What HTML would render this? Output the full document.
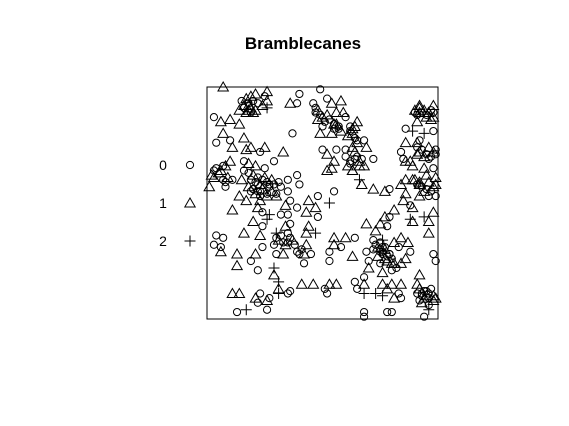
<!DOCTYPE html>
<html><head><meta charset="utf-8"><style>
html,body{margin:0;padding:0;background:#fff;}
svg{display:block;font-family:"Liberation Sans",Arial,sans-serif;}
</style></head><body>
<svg id="chart" width="569" height="426" viewBox="0 0 569 426">
<text x="303" y="49" text-anchor="middle" font-size="17" font-weight="bold">Bramblecanes</text>
<rect x="207" y="87" width="231" height="232" fill="none" stroke="#000" stroke-width="1"/>
<g id="legend"></g>
<g id="points"></g>
</svg>
<script>
const ptsX=[7,17,19,21,26,26,18,19,20,17,26,36,39,40,46,49,52,54,58,47,48,50,49,56,59,60,55,62,64,65,63,65,68,69,63,60,56,50,52,55,54,52,62,63,66,68,72,66,67,72,77,79,84,86,89,92,98,96,99,86,88,89,85,92,98,94,96,96,89,88,81,77,79,75,78,69,73,
92,98,90,92,95,98,91,86,89,94,98,92,86,91,84,85,88,91,96,99,98,94,89,86,95,99,
3,6,10,14,7,4,10,11,16,17,19,23,25,33,29,37,16,18,21,25,16,18,10,8,6,3,1,7,8,11,15,
22,23,27,31,35,39,40,35,20,26,30,14,17,23,22,24,27,11,36,34,39,32,35,44,48,53,55,47,43,48,26,20,24,34,36,35,30,23,16,44,47,43,
4,7,3,6,6,13,19,21,24,29,30,33,22,13,29,29,31,31,11,14,21,23,26,22,27,31,35,36,13,17,26,
39,41,43,42,42,40,45,53,55,55,58,60,53,63,64,69,70,70,72,75,75,76,77,79,76,81,84,83,84,87,88,86,80,80,78,76,98,99,
41,46,51,52,53,56,64,65,68,68,68,73,76,78,81,84,80,76,83,84,68,68,78,80,92,91,93,95,96,99,93,96,94,
15,16,18,19,20,21,22,14,16,18,24,25,47,48,49,50,51,52,53,55,57,61,62,63,64,65,60,61,62,63,64,
90,91,92,93,94,95,96,97,97,98,91,92,93,94,95,96,97,98,99,90,91,92,93,94,95,96,97,99,
19,20,21,22,23,24,25,26,27,28,29,18,19,20,21,22,23,24,26,28,30,32,
72,73,74,75,76,77,78,74,75,76,77,79,80,81,82,
91,92,93,94,95,96,97,98,92,94,96,98,
30,31,32,33,34,35,36,37,38,3,5,7,2,4,8,9,
64,65,66,67,54,55,56,57,58];
const ptsY=[100,95,96,97,98,94,92,89,89,89,91,93,93,97,93,99,95,93,94,89,86,83,80,89,89,87,84,83,83,85,80,77,77,74,74,73,73,73,71,68,65,64,67,64,66,66,69,60,58,56,55,56,58,60,60,58,57,53,53,54,49,48,51,53,46,44,42,37,42,43,47,44,44,41,40,41,38,
92,92,89,89,87,87,85,82,81,80,81,77,76,76,72,69,68,71,69,73,65,65,66,68,62,61,
87,85,86,84,80,76,77,74,78,73,74,72,74,72,68,80,68,67,66,65,64,63,68,66,64,61,57,60,57,60,60,
58,55,58,59,60,62,58,55,56,53,53,53,51,51,48,46,45,47,51,49,48,45,45,51,53,50,55,48,46,44,43,42,40,40,41,37,37,36,37,40,37,37,
36,35,32,31,29,28,25,28,31,32,28,28,21,23,22,19,16,13,11,11,9,11,8,7,9,11,11,12,3,4,4,
29,30,32,28,24,28,28,29,35,32,31,35,25,27,35,29,25,22,34,33,30,28,31,28,34,33,35,31,24,33,29,26,24,21,25,20,28,25,
15,15,13,11,15,15,16,13,15,11,18,11,10,13,9,15,15,15,11,9,3,1,3,3,19,15,11,12,9,9,7,4,1,
94,92,93,91,94,90,93,90,91,90,92,96,91,90,88,87,85,88,86,84,82,79,81,82,78,76,70,66,68,64,69,
90,88,91,89,90,88,89,90,86,89,74,72,73,70,71,74,70,72,71,60,58,59,57,55,56,59,55,58,
60,62,59,61,58,60,61,59,57,60,58,57,55,56,54,55,53,56,54,55,54,57,
30,32,31,29,31,30,27,27,24,29,26,28,26,24,22,
11,13,10,12,10,11,13,10,8,9,6,8,
35,34,36,33,32,33,35,34,32,64,63,66,62,65,59,61,
72,70,68,69,80,82,84,83,81];
const ptsType=[1,1,1,1,1,1,1,0,1,1,2,1,0,0,0,0,0,1,1,0,1,0,1,1,1,0,0,0,1,1,1,0,0,1,1,0,0,0,1,1,1,1,0,1,1,1,0,2,1,1,1,0,1,1,1,1,1,0,0,1,0,1,1,1,1,2,1,1,1,2,1,1,0,1,0,1,1,
1,1,0,1,1,1,1,0,2,2,0,0,1,1,0,0,1,1,0,0,0,1,1,1,1,1,
0,1,1,1,1,0,0,1,1,1,1,0,1,1,0,0,0,1,1,0,0,0,1,1,1,1,1,0,0,0,1,
0,0,0,0,0,0,0,0,0,1,1,1,1,1,1,0,2,1,0,1,0,0,0,1,0,2,0,1,1,0,2,1,0,1,0,0,2,1,1,1,2,1,
0,0,0,0,1,1,0,1,0,0,0,1,0,1,2,1,2,1,1,1,1,0,1,0,0,2,0,0,0,2,0,
0,0,1,1,0,0,0,0,1,1,0,1,0,1,0,0,0,1,0,0,0,0,0,0,2,1,1,0,1,1,0,1,1,0,1,1,0,0,
1,1,0,0,1,1,0,0,1,2,0,2,2,1,1,1,1,1,0,0,0,0,0,0,1,1,0,0,0,1,1,2,0,
0,1,0,1,0,1,0,1,0,1,1,0,0,1,0,1,0,1,0,1,0,1,0,1,0,1,0,1,0,1,0,
1,0,1,0,1,0,1,0,1,0,0,1,0,1,0,1,0,1,0,1,0,1,0,1,0,1,0,1,
0,1,0,0,1,0,1,0,0,1,0,1,0,0,1,0,0,1,0,1,0,0,
0,0,1,0,0,1,0,1,0,0,1,0,0,1,0,
0,1,0,0,1,0,0,1,0,1,0,1,
0,1,0,0,1,0,0,1,0,0,1,0,1,0,0,1,
1,0,1,0,1,0,1,0,1];
const legendLabels=["0","1","2"];

const NS="http://www.w3.org/2000/svg";
const X0=207,X1=438,Y0=319,Y1=87;
function sx(v){return X0+v/100*(X1-X0);}
function sy(v){return Y0-v/100*(Y0-Y1);}
function marker(t,x,y){
  let el;
  if(t===0){el=document.createElementNS(NS,'circle');el.setAttribute('cx',x);el.setAttribute('cy',y);el.setAttribute('r',3.6);}
  else if(t===1){el=document.createElementNS(NS,'polygon');el.setAttribute('points',`${x},${y-5} ${x-5.2},${y+4} ${x+5.2},${y+4}`);}
  else {el=document.createElementNS(NS,'path');el.setAttribute('d',`M${x-5.5},${y}H${x+5.5}M${x},${y-5.5}V${y+5.5}`);}
  el.setAttribute('fill','none');el.setAttribute('stroke','#000');el.setAttribute('stroke-width','1');
  return el;
}
const pg=document.getElementById('points');
const names=['point-type-0','point-type-1','point-type-2'];
const n=Math.min(ptsX.length,ptsY.length);
for(let i=0;i<n;i++){
  const t=ptsType[i]||0;
  const el=marker(t,sx(ptsX[i]),sy(ptsY[i]));
  
  
  pg.appendChild(el);
}
const lg=document.getElementById('legend');
legendLabels.forEach((lab,i)=>{
  const y=165+i*38;
  const tx=document.createElementNS(NS,'text');
  tx.setAttribute('x',163);tx.setAttribute('y',y+5);tx.setAttribute('text-anchor','middle');tx.setAttribute('font-size','14');
  tx.textContent=lab;
  
  
  lg.appendChild(tx);
  const m=marker(i,190,y);
  
  
  lg.appendChild(m);
});
</script>
</body></html>
